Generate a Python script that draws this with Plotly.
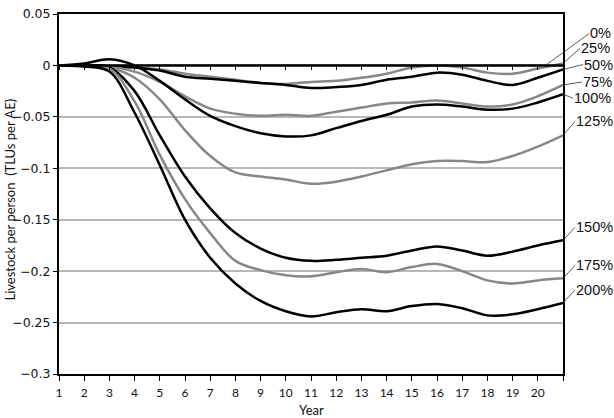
import plotly.graph_objects as go

years = list(range(1, 22))
tick_years = list(range(1, 22))
tick_text = [str(v) for v in range(1, 21)] + [""]

s0 = [0, 0, 0, 0, 0, 0, 0, 0, 0, 0, 0, 0, 0, 0, 0, 0, 0, 0, 0, 0, 0]
s25 = [0, 0, -0.001, -0.002, -0.004, -0.008, -0.011, -0.014, -0.017, -0.018, -0.016,
       -0.015, -0.012, -0.008, -0.002, 0.000, -0.002, -0.007, -0.008, -0.003, 0.002]
s50 = [0, 0, -0.001, -0.002, -0.005, -0.011, -0.013, -0.015, -0.017, -0.019, -0.022,
       -0.021, -0.019, -0.014, -0.011, -0.007, -0.009, -0.015, -0.019, -0.012, -0.004]
s75 = [0, 0, -0.001, -0.006, -0.016, -0.030, -0.042, -0.047, -0.049, -0.048, -0.049,
       -0.045, -0.041, -0.037, -0.036, -0.034, -0.037, -0.040, -0.038, -0.030, -0.019]
s100 = [0, 0.002, 0.006, 0.000, -0.015, -0.033, -0.049, -0.059, -0.066, -0.069, -0.068,
        -0.061, -0.054, -0.048, -0.040, -0.038, -0.040, -0.043, -0.042, -0.036, -0.028]
s125 = [0, 0, -0.002, -0.012, -0.033, -0.063, -0.088, -0.104, -0.108, -0.111, -0.115,
        -0.113, -0.108, -0.102, -0.096, -0.093, -0.093, -0.094, -0.088, -0.079, -0.068]
s150 = [0, 0, -0.002, -0.025, -0.068, -0.108, -0.139, -0.163, -0.178, -0.187, -0.190,
        -0.189, -0.187, -0.185, -0.180, -0.176, -0.180, -0.185, -0.181, -0.175, -0.170]
s175 = [0, -0.001, -0.003, -0.035, -0.087, -0.130, -0.163, -0.190, -0.199, -0.204, -0.205,
        -0.201, -0.198, -0.201, -0.196, -0.193, -0.200, -0.209, -0.212, -0.209, -0.207]
s200 = [0, -0.001, -0.006, -0.046, -0.097, -0.150, -0.187, -0.212, -0.229, -0.239, -0.244,
        -0.240, -0.237, -0.239, -0.234, -0.232, -0.236, -0.243, -0.242, -0.237, -0.231]

series = [
    ("25%", s25, "#878787"),
    ("50%", s50, "#000000"),
    ("75%", s75, "#878787"),
    ("100%", s100, "#000000"),
    ("125%", s125, "#878787"),
    ("150%", s150, "#000000"),
    ("175%", s175, "#878787"),
    ("200%", s200, "#000000"),
]

# label anchor x on the line, and pixel offset of the label's left-middle point
label_offsets = {
    "0%": (20.3, 44, -32),
    "25%": (21, 17, -15),
    "50%": (21, 20, -5),
    "75%": (21, 19, -3),
    "100%": (21, 10, 4),
    "125%": (21, 12, -14),
    "150%": (21, 12, -13),
    "175%": (21, 12, -13),
    "200%": (21, 12, -13),
}

fig = go.Figure()

fig.add_trace(go.Scatter(x=years, y=s0, mode="lines", name="0%", xaxis="x2",
                         line=dict(color="#000000", width=2.5), showlegend=False))
for name, vals, col in series:
    fig.add_trace(go.Scatter(x=years, y=vals, mode="lines", name=name,
                             line=dict(color=col, width=2.5, shape="spline", smoothing=1.0),
                             showlegend=False))

annotations = []
all_vals = {"0%": s0}
for name, vals, col in series:
    all_vals[name] = vals
for name, (xe, ax, ay) in label_offsets.items():
    vals = all_vals[name]
    yend = vals[-1]
    annotations.append(dict(
        x=xe, y=yend, xref="x", yref="y", text=name, showarrow=True,
        arrowhead=0, arrowwidth=0.8, arrowcolor="#333333", ax=ax, ay=ay,
        xanchor="left", yanchor="middle",
        font=dict(family="Liberation Sans, Arial, sans-serif", size=14.5, color="#111111"),
        borderpad=0,
    ))

annotations.append(dict(
    x=-0.097, y=0.485, xref="paper", yref="paper", text="Livestock per person  (TLUs per AE)",
    textangle=-90, showarrow=False, xanchor="center", yanchor="middle",
    font=dict(family="Lato, Open Sans, sans-serif", size=13, color="#111111"),
))
annotations.append(dict(
    x=0.5, y=-0.1, xref="paper", yref="paper", text="Year", showarrow=False,
    xanchor="center", yanchor="middle",
    font=dict(family="Lato, Open Sans, sans-serif", size=13, color="#111111"),
))

fig.update_layout(
    width=614, height=418,
    margin=dict(l=59, r=51, t=14, b=44, autoexpand=False),
    paper_bgcolor="white", plot_bgcolor="white",
    showlegend=False,
    annotations=annotations,
    xaxis=dict(
        range=[1, 21], tickvals=tick_years, ticktext=tick_text,
        showgrid=False, zeroline=False, automargin=False,
        showline=True, linecolor="#000000", linewidth=2, mirror=True,
        ticks="outside", ticklen=5, tickcolor="#000000", tickwidth=1,
        tickfont=dict(family="Lato, Open Sans, sans-serif", size=12, color="#111111"),
        ticklabelstandoff=2,
    ),
    xaxis2=dict(
        range=[1, 21], tickvals=tick_years, overlaying="x", anchor="free",
        position=0.3 / 0.35, side="bottom", automargin=False,
        showgrid=False, zeroline=False, showline=False,
        ticks="outside", ticklen=4, tickcolor="#000000", tickwidth=1,
        showticklabels=False,
    ),
    yaxis=dict(
        range=[-0.3, 0.05], dtick=0.05, tick0=0, automargin=False,
        showgrid=True, gridcolor="#b8b8b8", gridwidth=1.5,
        zeroline=False,
        showline=True, linecolor="#000000", linewidth=2, mirror=True,
        ticks="outside", ticklen=4, tickcolor="#000000", tickwidth=1,
        tickfont=dict(family="DejaVu Sans, sans-serif", size=12.5, color="#111111"),
    ),
)

fig.write_html("out.html", config={"displayModeBar": False},
               post_script="document.body.style.margin='0px';")
